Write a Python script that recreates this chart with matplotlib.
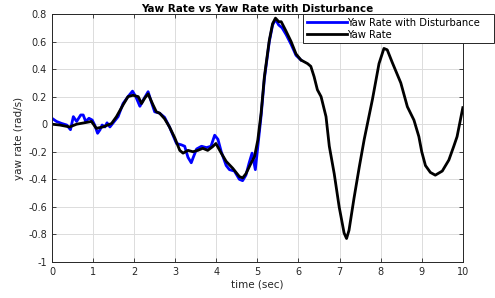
import numpy as np
import matplotlib
matplotlib.use("Agg")
import matplotlib.pyplot as plt

# yaw rate (black)
t_yaw = [0.0, 0.19, 0.43, 0.6, 0.84, 0.96, 1.08, 1.24, 1.45, 1.57, 1.73, 1.85, 1.97, 2.1,
         2.18, 2.26, 2.34, 2.46, 2.54, 2.62, 2.74, 2.86, 2.99, 3.11, 3.19, 3.31, 3.43,
         3.55, 3.67, 3.79, 3.91, 3.99, 4.12, 4.24, 4.4, 4.56, 4.64, 4.72, 4.85, 4.93,
         5.01, 5.09, 5.17, 5.29, 5.37, 5.44, 5.52, 5.58, 5.69, 5.82, 5.94, 6.06, 6.22,
         6.3, 6.38, 6.46, 6.55, 6.67, 6.75, 6.87, 6.99, 7.11, 7.17, 7.23, 7.35, 7.48,
         7.6, 7.8, 7.96, 8.08, 8.16, 8.28, 8.49, 8.65, 8.81, 8.93, 9.0, 9.09, 9.21, 9.33,
         9.5, 9.66, 9.78, 9.86, 10.0]
yaw = [0.0, -0.006, -0.02, 0.0, 0.013, 0.02, -0.03, -0.02, 0.005, 0.055, 0.14, 0.2, 0.21, 0.2,
       0.15, 0.19, 0.22, 0.14, 0.09, 0.08, 0.04, -0.02, -0.1, -0.19, -0.21, -0.19, -0.2,
       -0.19, -0.175, -0.19, -0.163, -0.14, -0.21, -0.27, -0.32, -0.38, -0.39, -0.36, -0.28, -0.235,
       -0.115, 0.08, 0.345, 0.61, 0.73, 0.77, 0.744, 0.744, 0.68, 0.6, 0.51, 0.466, 0.44,
       0.42, 0.345, 0.25, 0.2, 0.055, -0.16, -0.36, -0.6, -0.79, -0.83, -0.77, -0.54, -0.31,
       -0.11, 0.18, 0.44, 0.55, 0.54, 0.45, 0.3, 0.127, 0.03, -0.09, -0.2, -0.3, -0.35, -0.37,
       -0.34, -0.26, -0.16, -0.09, 0.12]

# yaw rate with disturbance (blue), only differs up to ~5.8 s
t_dist = [0.0, 0.11, 0.23, 0.36, 0.45, 0.52, 0.6, 0.7, 0.76, 0.82, 0.9, 0.98, 1.04, 1.11,
          1.17, 1.22, 1.29, 1.34, 1.41, 1.49, 1.61, 1.73, 1.85, 1.96, 2.04, 2.14, 2.23,
          2.34, 2.42, 2.5, 2.62, 2.74, 2.86, 3.03, 3.15, 3.23, 3.31, 3.39, 3.44, 3.52,
          3.64, 3.76, 3.87, 3.96, 4.04, 4.12, 4.24, 4.32, 4.44, 4.56, 4.64, 4.72, 4.8,
          4.87, 4.95, 5.0, 5.09, 5.17, 5.29, 5.37, 5.44, 5.52, 5.6, 5.7, 5.82, 5.94, 6.06]
dist = [0.043, 0.02, 0.006, -0.006, -0.04, 0.055, 0.02, 0.067, 0.067, 0.02, 0.043, 0.03, -0.006, -0.066,
        -0.04, -0.006, -0.02, 0.01, -0.02, 0.01, 0.055, 0.15, 0.2, 0.24, 0.2, 0.13, 0.18,
        0.236, 0.16, 0.09, 0.08, 0.05, -0.02, -0.14, -0.15, -0.16, -0.24, -0.28, -0.24, -0.18,
        -0.16, -0.17, -0.16, -0.08, -0.11, -0.2, -0.3, -0.33, -0.34, -0.4, -0.41, -0.37, -0.28,
        -0.21, -0.33, -0.19, 0.06, 0.33, 0.6, 0.72, 0.76, 0.72, 0.7, 0.65, 0.58, 0.5, 0.466]

plt.rcParams['font.family'] = 'DejaVu Sans'
fig = plt.figure(figsize=(4.95, 2.98), dpi=100)
ax = fig.add_axes([0.105, 0.121, 0.830, 0.832])

ax.plot(t_dist, dist, color='#0000ff', linewidth=2.0, label='Yaw Rate with Disturbance')
ax.plot(t_yaw, yaw, color='black', linewidth=2.0, label='Yaw Rate')

ax.set_xlim(0, 10)
ax.set_ylim(-1, 0.8)
ax.set_xticks(np.arange(0, 11, 1))
ax.set_yticks(np.arange(-1, 0.81, 0.2))
ax.set_yticklabels(['-1', '-0.8', '-0.6', '-0.4', '-0.2', '0', '0.2', '0.4', '0.6', '0.8'])
ax.grid(True, color='#dcdcdc', linewidth=0.7)
ax.tick_params(direction='in', top=True, right=True, labelsize=7, colors='#262626',
               length=3, width=0.6)
for s in ax.spines.values():
    s.set_color('#262626')
    s.set_linewidth(0.7)

ax.set_title('Yaw Rate vs Yaw Rate with Disturbance', fontsize=7.5, fontweight='bold', pad=1.5)
ax.set_xlabel('time (sec)', fontsize=7.5, color='#262626', labelpad=2)
ax.set_ylabel('yaw rate (rad/s)', fontsize=7.5, color='#262626', labelpad=3)

leg = ax.legend(loc='upper left', bbox_to_anchor=(0.611, 0.883, 0.464, 0.117), mode='expand',
                borderaxespad=0, fontsize=7.2, handlelength=4.0, handletextpad=0.1,
                labelspacing=0.2, borderpad=0.35, fancybox=False, edgecolor='#262626',
                framealpha=1)
leg.get_frame().set_linewidth(0.7)
leg.set_clip_on(False)

fig.savefig('out.png', dpi=100)
